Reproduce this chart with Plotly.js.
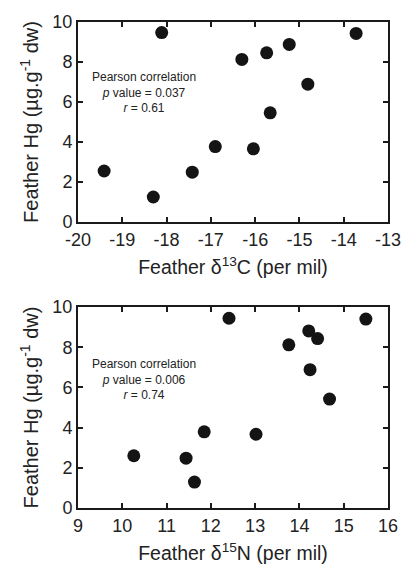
<!DOCTYPE html>
<html>
<head>
<meta charset="utf-8">
<script src="https://cdn.plot.ly/plotly-3.0.1.min.js"></script>
<style>html,body{margin:0;padding:0;background:#fff;}#chart{width:403px;height:568px;}</style>
</head>
<body>
<div id="chart"></div>
<script>
// Top panel: feather δ13C vs feather Hg
const carbon13 = [-19.41, -18.30, -18.11, -17.42, -16.90, -16.30, -16.04, -15.74, -15.66, -15.23, -14.81, -13.72];
const hgTop    = [2.55, 1.25, 9.47, 2.49, 3.77, 8.13, 3.66, 8.46, 5.46, 8.88, 6.89, 9.43];
// Bottom panel: feather δ15N vs feather Hg
const nitrogen15 = [10.26, 11.44, 11.63, 11.85, 12.41, 13.02, 13.76, 14.21, 14.24, 14.41, 14.68, 15.50];
const hgBottom   = [2.60, 2.48, 1.29, 3.79, 9.44, 3.67, 8.12, 8.81, 6.88, 8.43, 5.42, 9.40];

const xTopTicks = [-20, -19, -18, -17, -16, -15, -14, -13];
const xTopText = ["-20", "-19", "-18", "-17", "-16", "-15", "-14", "-13"];
const xBotTicks = [9, 10, 11, 12, 13, 14, 15, 16];
const yTicks = [0, 2, 4, 6, 8, 10];

const statsTop = "Pearson correlation<br><i>p</i> value = 0.037<br><i>r</i> = 0.61";
const statsBot = "Pearson correlation<br><i>p</i> value = 0.006<br><i>r</i> = 0.74";

const marker = {size: 13, color: '#141414'};
const traces = [
  {x: carbon13, y: hgTop, type: 'scatter', mode: 'markers', marker: marker, xaxis: 'x', yaxis: 'y', hoverinfo: 'skip'},
  {x: nitrogen15, y: hgBottom, type: 'scatter', mode: 'markers', marker: marker, xaxis: 'x2', yaxis: 'y2', hoverinfo: 'skip'}
];

const fontFam = 'Liberation Sans, Arial, sans-serif';
function axisBase(extra) {
  return Object.assign({
    showline: true, linecolor: '#1a1a1a', linewidth: 2, mirror: 'ticks',
    ticks: 'inside', ticklen: 5, tickwidth: 2, tickcolor: '#1a1a1a',
    showgrid: false, zeroline: false, fixedrange: true,
    tickfont: {family: fontFam, size: 18, color: '#222'}
  }, extra);
}
const titleFont = {family: fontFam, size: 19.5, color: '#222'};
const yTitle = {text: 'Feather Hg (µg.g<sup>-1</sup> dw)', font: {family: fontFam, size: 20, color: '#222'}, standoff: 8};

const layout = {
  width: 403, height: 568,
  margin: {l: 78, r: 15, t: 22, b: 60},
  paper_bgcolor: '#fff', plot_bgcolor: '#fff',
  showlegend: false,
  font: {family: fontFam, color: '#222'},
  xaxis: axisBase({domain: [0, 1], anchor: 'y', range: [-20, -13], tickvals: xTopTicks, ticktext: xTopText,
    title: {text: 'Feather δ<sup>13</sup>C (per mil)', font: titleFont, standoff: 12}}),
  yaxis: axisBase({domain: [0.5885, 1], anchor: 'x', range: [0, 10], tickvals: yTicks, title: yTitle}),
  xaxis2: axisBase({domain: [0, 1], anchor: 'y2', range: [9, 16], tickvals: xBotTicks,
    title: {text: 'Feather δ<sup>15</sup>N (per mil)', font: titleFont, standoff: 12}}),
  yaxis2: axisBase({domain: [0, 0.4136], anchor: 'x2', range: [0, 10], tickvals: yTicks, title: yTitle}),
  annotations: [
    {xref: 'x', yref: 'y', x: -18.5, y: 6.5, text: statsTop, showarrow: false, align: 'center',
     font: {family: fontFam, size: 12, color: '#222'}},
    {xref: 'x2', yref: 'y2', x: 10.5, y: 6.4, text: statsBot, showarrow: false, align: 'center',
     font: {family: fontFam, size: 12, color: '#222'}}
  ]
};

Plotly.newPlot('chart', traces, layout, {displayModeBar: false, staticPlot: true});
</script>
</body>
</html>
